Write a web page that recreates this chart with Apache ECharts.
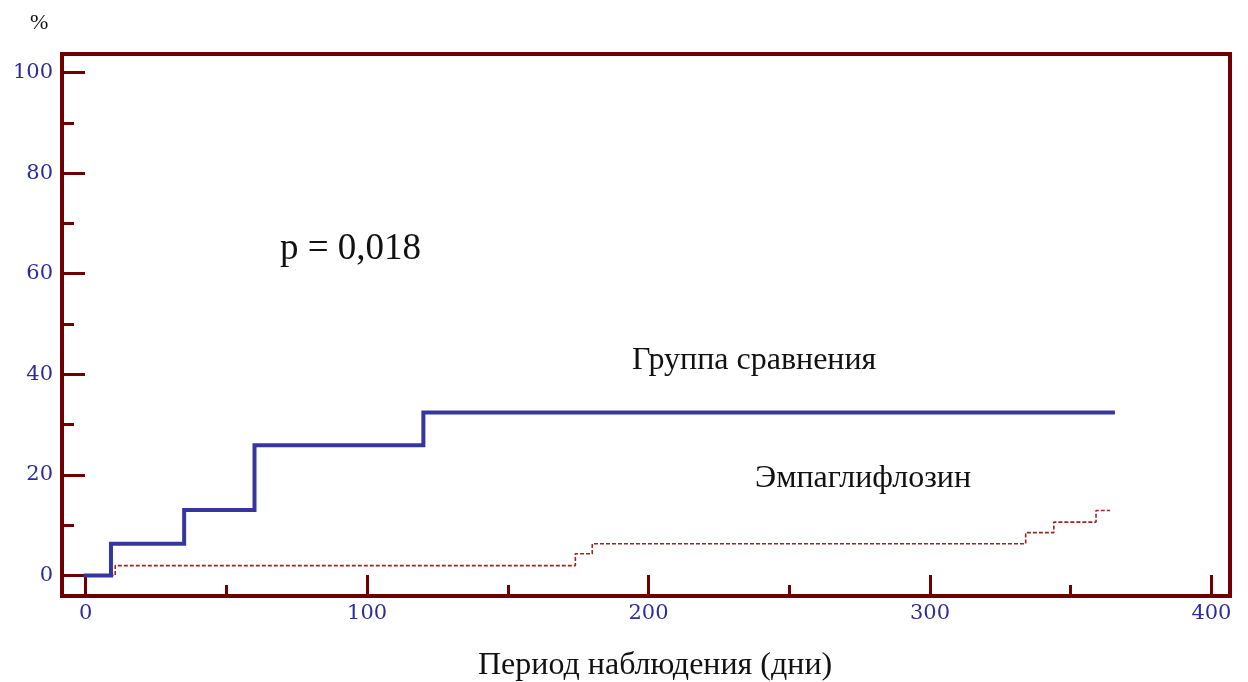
<!DOCTYPE html>
<html>
<head>
<meta charset="utf-8">
<script src="https://cdn.jsdelivr.net/npm/echarts@6/dist/echarts.min.js"></script>
<style>
  html, body { margin: 0; padding: 0; background: #ffffff; }
  #chart { width: 1248px; height: 682px; }
</style>
</head>
<body>
<div id="chart"></div>
<script>
// Cumulative event rate (%) over the follow-up period (days)
const compareDays = [0, 9, 35, 60, 120, 365];
const compareVals = [0, 6.3, 13.0, 25.9, 32.4, 32.4];

const empaDays = [0, 10.5, 174, 180, 334, 344, 359, 364];
const empaVals = [0, 1.95, 4.3, 6.3, 8.5, 10.6, 12.9, 12.9];

const xMajorTicks = [0, 100, 200, 300, 400];
const xMinorTicks = [50, 150, 250, 350];
const yMajorTicks = [0, 20, 40, 60, 80, 100];
const yMinorTicks = [10, 30, 50, 70, 90];

const seriesNames = ['Группа сравнения', 'Эмпаглифлозин'];

const FRAME = '#6e0000';
const LABEL = '#2c2c9c';
const X_MIN = -8.4, X_MAX = 406.6;
const Y_MIN = -4.1, Y_MAX = 103.7;

const pairs = (xs, ys) => xs.map((x, i) => [x, ys[i]]);

const chart = echarts.init(document.getElementById('chart'), null, { renderer: 'canvas' });

const labelFont = { color: LABEL, fontFamily: 'DejaVu Serif', fontSize: 21 };

chart.setOption({
  animation: false,
  backgroundColor: '#ffffff',
  grid: {
    left: 62, top: 54, width: 1168, height: 542,
    show: true, borderColor: FRAME, borderWidth: 4, backgroundColor: 'transparent'
  },
  xAxis: [
    {
      type: 'value', min: X_MIN, max: X_MAX, position: 'bottom',
      axisLine: { show: true, onZero: false, lineStyle: { color: FRAME, width: 4 } },
      axisTick: { show: true, inside: true, length: 21, customValues: xMajorTicks,
                  lineStyle: { color: FRAME, width: 3 } },
      axisLabel: Object.assign({ show: true, margin: 7, customValues: xMajorTicks }, labelFont),
      splitLine: { show: false }
    },
    {
      type: 'value', min: X_MIN, max: X_MAX, position: 'bottom', offset: 0,
      axisLine: { show: false, onZero: false },
      axisTick: { show: true, inside: true, length: 11, customValues: xMinorTicks,
                  lineStyle: { color: FRAME, width: 3 } },
      axisLabel: { show: false },
      splitLine: { show: false }
    }
  ],
  yAxis: [
    {
      type: 'value', min: Y_MIN, max: Y_MAX, position: 'left',
      axisLine: { show: true, onZero: false, lineStyle: { color: FRAME, width: 4 } },
      axisTick: { show: true, inside: true, length: 23, customValues: yMajorTicks,
                  lineStyle: { color: FRAME, width: 3 } },
      axisLabel: Object.assign({ show: true, margin: 9, customValues: yMajorTicks }, labelFont),
      splitLine: { show: false }
    },
    {
      type: 'value', min: Y_MIN, max: Y_MAX, position: 'left', offset: 0,
      axisLine: { show: false, onZero: false },
      axisTick: { show: true, inside: true, length: 12, customValues: yMinorTicks,
                  lineStyle: { color: FRAME, width: 3 } },
      axisLabel: { show: false },
      splitLine: { show: false }
    }
  ],
  series: [
    {
      name: seriesNames[1], type: 'line', step: 'end', xAxisIndex: 0, yAxisIndex: 0,
      data: pairs(empaDays, empaVals), symbol: 'none', z: 3,
      lineStyle: { color: '#9c2424', width: 1.6, type: [4, 2] }
    },
    {
      name: seriesNames[0], type: 'line', step: 'end', xAxisIndex: 0, yAxisIndex: 0,
      data: pairs(compareDays, compareVals), symbol: 'none', z: 4,
      lineStyle: { color: '#35379c', width: 4, cap: 'square', join: 'miter' }
    }
  ],
  graphic: [
    { type: 'text', left: 30, top: 12,
      style: { text: '%', fontFamily: 'Liberation Serif', fontSize: 22, fill: '#111111' } },
    { type: 'text', left: 280, top: 231,
      style: { text: 'p = 0,018', fontFamily: 'Liberation Serif', fontSize: 37, fill: '#111111' } },
    { type: 'text', left: 632, top: 345,
      style: { text: seriesNames[0], fontFamily: 'Liberation Serif', fontSize: 32, fill: '#111111' } },
    { type: 'text', left: 755, top: 463,
      style: { text: seriesNames[1], fontFamily: 'Liberation Serif', fontSize: 32, fill: '#111111' } },
    { type: 'text', left: 478, top: 650,
      style: { text: 'Период наблюдения (дни)', fontFamily: 'Liberation Serif', fontSize: 32, fill: '#111111' } }
  ]
});
</script>
</body>
</html>
